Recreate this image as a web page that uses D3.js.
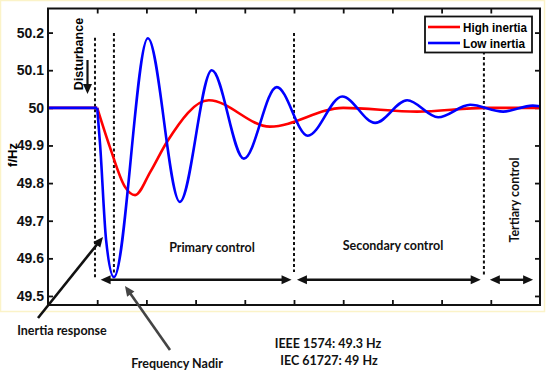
<!DOCTYPE html>
<html>
<head>
<meta charset="utf-8">
<script src="https://cdn.jsdelivr.net/npm/d3@7.9.0/dist/d3.min.js"></script>
<style>
  html, body { margin: 0; padding: 0; background: #fff; }
  svg { display: block; }
  .tick text { font-family: "Liberation Sans", Arial, sans-serif; font-weight: bold; font-size: 14px; fill: #111; }
  .cal { font-family: Lato, "Open Sans", sans-serif; font-weight: bold; font-size: 12.5px; fill: #111; }
</style>
</head>
<body>
<div id="chart"></div>
<script>
// Values: [time, frequency in Hz]
const highInertia = [
  [0, 50], [1.0, 50], [1.26, 49.895], [1.565, 49.79], [1.77, 49.768],
  [2.08, 49.83], [2.42, 49.91], [3.27, 50.02], [4.51, 49.95], [6.0, 50.0],
  [7.5, 49.99], [8.9, 50.0], [10, 50.0]
];
const lowInertia = [
  [0, 50], [1.0, 50], [1.06, 49.9], [1.18, 49.65], [1.34, 49.55],
  [2.03, 50.185], [2.68, 49.75], [3.33, 50.10], [3.98, 49.865], [4.65, 50.055],
  [5.28, 49.926], [5.98, 50.03], [6.65, 49.96], [7.30, 50.02], [7.93, 49.975],
  [8.58, 50.008], [9.25, 49.99], [9.85, 50.006], [10, 50.004]
];
const yTicks = [49.5, 49.6, 49.7, 49.8, 49.9, 50, 50.1, 50.2];
const yTickLabels = ['49.5', '49.6', '49.7', '49.8', '49.9', '50', '50.1', '50.2'];
const xTicks = [1, 2, 3, 4, 5, 6, 7, 8, 9];

// dotted phase boundaries: time, top and bottom frequency
const boundaries = [
  { t: 0.955, top: 50.186, bottom: 49.55 },
  { t: 1.34, top: 50.199, bottom: 49.556 },
  { t: 5.0, top: 50.199, bottom: 49.564 },
  { t: 8.86, top: 50.15, bottom: 49.556 }
];
// double arrows below the curves
const phases = [
  { from: 1.07, to: 4.95, label: 'Primary control' },
  { from: 5.06, to: 8.795, label: 'Secondary control' },
  { from: 8.98, to: 9.86, label: 'Tertiary control' }
];
const disturbanceT = 1.0;

const width = 550;
const height = 374;
const plot = { left: 48, right: 540, top: 8.5, bottom: 305 };

const svg = d3.select('#chart')
  .append('svg')
  .attr('width', width)
  .attr('height', height);

// faint yellowish frame of the original figure
svg.append('rect')
  .attr('x', 0.5).attr('y', 0.5)
  .attr('width', 544).attr('height', 311)
  .attr('fill', 'none')
  .attr('stroke', '#fbf3c8')
  .attr('stroke-width', 1.5);

const x = d3.scaleLinear().domain([0, 10]).range([plot.left, plot.right]);
const y = d3.scaleLinear().domain([49.476, 50.264]).range([plot.bottom, plot.top]);

// axes, ticks pointing inward (MATLAB box style)
svg.append('g')
  .attr('transform', `translate(${plot.left},0)`)
  .call(d3.axisLeft(y).tickValues(yTicks).tickFormat((d, i) => yTickLabels[i]).tickSize(-5).tickPadding(4))
  .call(g => g.select('.domain').remove());
svg.append('g')
  .attr('transform', `translate(${plot.right},0)`)
  .call(d3.axisRight(y).tickValues(yTicks).tickFormat('').tickSize(-5))
  .call(g => g.select('.domain').remove());
svg.append('g')
  .attr('transform', `translate(0,${plot.bottom})`)
  .call(d3.axisBottom(x).tickValues(xTicks).tickFormat('').tickSize(-5))
  .call(g => g.select('.domain').remove());
svg.append('g')
  .attr('transform', `translate(0,${plot.top})`)
  .call(d3.axisTop(x).tickValues(xTicks).tickFormat('').tickSize(-5))
  .call(g => g.select('.domain').remove());
svg.selectAll('.tick line').attr('stroke', '#111').attr('stroke-width', 1.8);

// y label
svg.append('text')
  .attr('transform', 'translate(17,155) rotate(-90)')
  .attr('text-anchor', 'middle')
  .style('font-family', '"Liberation Sans", Arial, sans-serif')
  .style('font-weight', 'bold')
  .style('font-size', '13px')
  .text('f/Hz');

// dotted boundaries
svg.append('g')
  .selectAll('line')
  .data(boundaries)
  .join('line')
  .attr('x1', d => x(d.t)).attr('x2', d => x(d.t))
  .attr('y1', d => y(d.top)).attr('y2', d => y(d.bottom))
  .attr('stroke', '#111')
  .attr('stroke-width', 2)
  .attr('stroke-dasharray', '3,2.5');

// curves: flat part straight, response smooth
function drawSeries(data, color) {
  const pre = data.filter(d => d[0] <= disturbanceT);
  const post = data.filter(d => d[0] >= disturbanceT);
  svg.append('path')
    .attr('d', d3.line().x(d => x(d[0])).y(d => y(d[1]))(pre))
    .attr('fill', 'none').attr('stroke', color).attr('stroke-width', 2.6);
  svg.append('path')
    .attr('d', d3.line().x(d => x(d[0])).y(d => y(d[1])).curve(d3.curveMonotoneX)(post))
    .attr('fill', 'none').attr('stroke', color).attr('stroke-width', 2.6)
    .attr('stroke-linejoin', 'round');
}
drawSeries(highInertia, '#ff0000');
drawSeries(lowInertia, '#0000ff');

// plot box
svg.append('rect')
  .attr('x', plot.left).attr('y', plot.top)
  .attr('width', plot.right - plot.left).attr('height', plot.bottom - plot.top)
  .attr('fill', 'none').attr('stroke', '#111').attr('stroke-width', 2);

// arrow helper: line with filled head(s)
function arrowHead(x1, y1, x2, y2, color, len, half) {
  const a = Math.atan2(y2 - y1, x2 - x1);
  const bx = x2 - len * Math.cos(a), by = y2 - len * Math.sin(a);
  const px = -Math.sin(a) * half, py = Math.cos(a) * half;
  svg.append('path')
    .attr('d', `M${x2},${y2}L${bx + px},${by + py}L${bx - px},${by - py}Z`)
    .attr('fill', color);
}
function arrow(x1, y1, x2, y2, color, w, both) {
  const a = Math.atan2(y2 - y1, x2 - x1);
  const len = 10;
  const sx = both ? x1 + (len - 2) * Math.cos(a) : x1;
  const sy = both ? y1 + (len - 2) * Math.sin(a) : y1;
  svg.append('line')
    .attr('x1', sx).attr('y1', sy)
    .attr('x2', x2 - (len - 2) * Math.cos(a)).attr('y2', y2 - (len - 2) * Math.sin(a))
    .attr('stroke', color).attr('stroke-width', w);
  arrowHead(x1, y1, x2, y2, color, len, 4.5);
  if (both) arrowHead(x2, y2, x1, y1, color, len, 4.5);
}

const arrowY = y(49.543);
phases.forEach(p => arrow(x(p.from), arrowY, x(p.to), arrowY, '#111', 2.4, true));

svg.append('text').attr('class', 'cal')
  .attr('x', 212).attr('y', 252).attr('text-anchor', 'middle')
  .text(phases[0].label);
svg.append('text').attr('class', 'cal')
  .attr('x', 393).attr('y', 250).attr('text-anchor', 'middle')
  .text(phases[1].label);
svg.append('text').attr('class', 'cal')
  .attr('transform', 'translate(519,200) rotate(-90)')
  .attr('text-anchor', 'middle')
  .text(phases[2].label);

// disturbance
svg.append('text')
  .attr('transform', 'translate(82.5,54) rotate(-90)')
  .attr('text-anchor', 'middle')
  .style('font-family', '"Liberation Sans", Arial, sans-serif')
  .style('font-weight', 'bold')
  .style('font-size', '12.5px')
  .text('Disturbance');
arrow(87.5, 60, 87.5, 94, '#111', 2.2, false);

// inertia response
arrow(38, 318, 103, 237, '#111', 2.6, false);
svg.append('text').attr('class', 'cal')
  .attr('x', 62).attr('y', 335).attr('text-anchor', 'middle')
  .text('Inertia response');

// frequency nadir
arrow(170, 350, 125, 286, '#444', 2.6, false);
svg.append('text').attr('class', 'cal')
  .attr('x', 177).attr('y', 368).attr('text-anchor', 'middle')
  .text('Frequency Nadir');

// standards
svg.append('text').attr('class', 'cal')
  .attr('x', 328).attr('y', 348).attr('text-anchor', 'middle')
  .text('IEEE 1574: 49.3 Hz');
svg.append('text').attr('class', 'cal')
  .attr('x', 329).attr('y', 365).attr('text-anchor', 'middle')
  .text('IEC 61727: 49 Hz');

// legend
const legendItems = [
  { name: 'High inertia', color: '#ff0000', w: 64 },
  { name: 'Low inertia', color: '#0000ff', w: 62 }
];
const legend = svg.append('g');
legend.append('rect')
  .attr('x', 425).attr('y', 16.5).attr('width', 107).attr('height', 36)
  .attr('fill', '#fff').attr('stroke', '#111').attr('stroke-width', 1.8);
legendItems.forEach((d, i) => {
  const ly = 27 + i * 16;
  legend.append('line')
    .attr('x1', 428).attr('x2', 460).attr('y1', ly).attr('y2', ly)
    .attr('stroke', d.color).attr('stroke-width', 2.6);
  legend.append('text')
    .attr('x', 463).attr('y', ly + 5)
    .attr('textLength', d.w)
    .attr('lengthAdjust', 'spacingAndGlyphs')
    .style('font-family', '"Liberation Sans", Arial, sans-serif')
    .style('font-weight', 'bold')
    .style('font-size', '13.5px')
    .text(d.name);
});
</script>
</body>
</html>
